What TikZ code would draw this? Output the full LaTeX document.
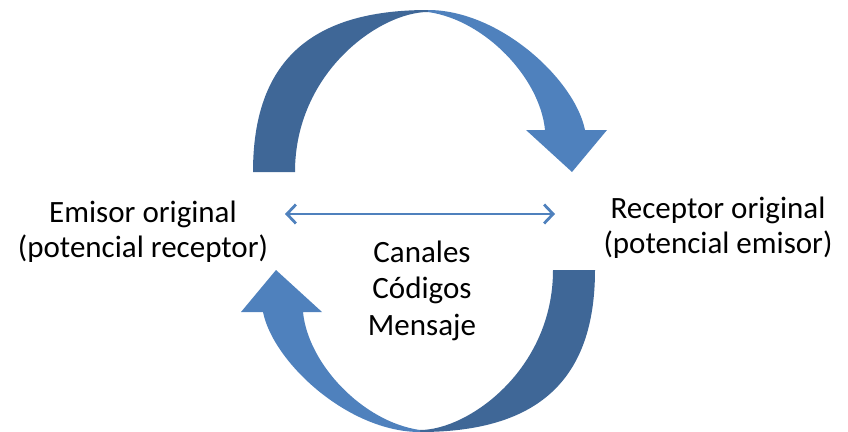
\documentclass[tikz,border=0pt]{standalone}
\usepackage{fontspec}
\setmainfont{Carlito}
\usetikzlibrary{arrows.meta}
\definecolor{arrlight}{HTML}{4F81BD}
\definecolor{arrdark}{HTML}{3F6797}
\newcommand{\halfcyclearrow}{%
  \fill[arrdark] (253,172) .. controls (253,62) and (310,10) .. (428,10)
     -- (428,12) .. controls (380,12) and (295,72) .. (295,172) -- cycle;
  \fill[arrlight] (428,10) .. controls (500,10) and (575,80) .. (585,130)
     -- (607,130) -- (572,172) -- (526,130) -- (545,130)
     .. controls (540,78) and (485,20) .. (428,12) -- cycle;}
\begin{document}
\begin{tikzpicture}[x=1pt,y=-1pt,
  lbl/.style={align=center,font=\fontsize{31}{35}\selectfont,inner sep=0pt,text=black,anchor=base},
  midlbl/.style={lbl,font=\fontsize{31}{36.5}\selectfont},
  conn/.style={draw=arrlight,line width=2.8pt,
    {Straight Barb[length=9pt,width=19pt]}-{Straight Barb[length=9pt,width=19pt]}}]
\useasboundingbox (0,0) rectangle (848,431);
\halfcyclearrow
\begin{scope}[rotate around={180:(424,221)}]
  \halfcyclearrow
\end{scope}
\node[lbl] (emisor) at (143,257) {Emisor original\\(potencial receptor)};
\node[lbl] (receptor) at (718,253) {Receptor original\\(potencial emisor)};
\node[midlbl] (medio) at (422,335) {Canales\\Códigos\\Mensaje};
\coordinate (chL) at (285,214);
\coordinate (chR) at (555,214);
\draw[conn] (chL) -- (chR);
\end{tikzpicture}
\end{document}
